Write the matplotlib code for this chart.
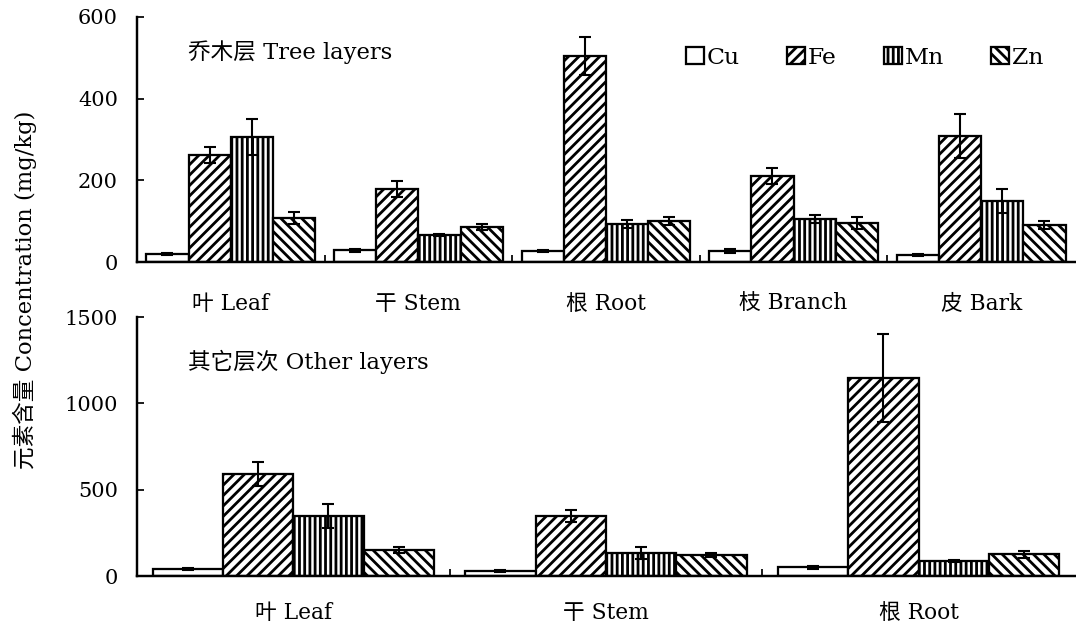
import numpy as np
import matplotlib
matplotlib.use("Agg")
import matplotlib.pyplot as plt

plt.rcParams['font.family'] = ['DejaVu Serif', 'Noto Sans CJK SC']
plt.rcParams['hatch.linewidth'] = 1.6
plt.rcParams['hatch.color'] = 'black'

# data (mg/kg), mean and error
elements = ['Cu', 'Fe', 'Mn', 'Zn']
hatches = ['', '////', '||||', '\\\\\\\\']

tree_parts = ['叶 Leaf', '干 Stem', '根 Root', '枝 Branch', '皮 Bark']
tree_cu = [20, 29, 27, 27, 17]
tree_cu_err = [2, 4, 3, 4, 2]
tree_fe = [262, 179, 505, 211, 309]
tree_fe_err = [20, 19, 46, 19, 54]
tree_mn = [306, 66, 93, 105, 150]
tree_mn_err = [44, 3, 10, 10, 29]
tree_zn = [108, 86, 100, 96, 91]
tree_zn_err = [14, 7, 10, 14, 9]

other_parts = ['叶 Leaf', '干 Stem', '根 Root']
other_cu = [40, 28, 50]
other_cu_err = [5, 4, 8]
other_fe = [590, 347, 1146]
other_fe_err = [70, 35, 255]
other_mn = [347, 133, 87]
other_mn_err = [70, 35, 8]
other_zn = [150, 121, 127]
other_zn_err = [18, 10, 20]

dpi = 125
fig = plt.figure(figsize=(1076 / dpi, 628 / dpi), dpi=dpi)
ax1 = fig.add_axes([0.1273, 0.5828, 0.8717, 0.3902])
ax2 = fig.add_axes([0.1273, 0.0828, 0.8717, 0.4124])

w = 0.225


def draw_panel(ax, parts, vals, errs, ylim, yticks, title, title_y, xpad):
    x = np.arange(len(parts))
    for k in range(4):
        ax.bar(x + (k - 1.5) * w, vals[k], w, yerr=errs[k],
               color='white', edgecolor='black', linewidth=1.3,
               hatch=hatches[k], label=elements[k],
               error_kw=dict(ecolor='black', elinewidth=1.2, capsize=3.7, capthick=1.2))
    ax.set_xlim(-0.5, len(parts) - 0.5)
    ax.set_ylim(*ylim)
    ax.set_yticks(yticks)
    ax.set_xticks(x)
    ax.set_xticklabels(parts, fontsize=12.5)
    ax.set_xticks(np.arange(len(parts) - 1) + 0.5, minor=True)
    ax.tick_params(axis='x', which='major', length=0, pad=xpad)
    ax.tick_params(axis='x', which='minor', direction='in', length=4, width=1)
    ax.tick_params(axis='y', direction='in', length=4, width=1, pad=11, labelsize=12)
    for s in ['top', 'right']:
        ax.spines[s].set_visible(False)
    for s in ['left', 'bottom']:
        ax.spines[s].set_linewidth(1.4)
    ax.text(0.054, title_y, title, transform=ax.transAxes, fontsize=13, va='center')


draw_panel(ax1, tree_parts,
           [tree_cu, tree_fe, tree_mn, tree_zn],
           [tree_cu_err, tree_fe_err, tree_mn_err, tree_zn_err],
           (0, 600), [0, 200, 400, 600], '乔木层 Tree layers', 0.857, 18)
draw_panel(ax2, other_parts,
           [other_cu, other_fe, other_mn, other_zn],
           [other_cu_err, other_fe_err, other_mn_err, other_zn_err],
           (0, 1500), [0, 500, 1000, 1500], '其它层次 Other layers', 0.826, 15)

ax1.legend(loc='center', bbox_to_anchor=(0.776, 0.833), ncol=4, frameon=False,
           fontsize=13.5, handlelength=0.75, handleheight=0.75, handletextpad=0.15,
           columnspacing=2.0)

fig.text(0.023, 0.538, '元素含量 Concentration (mg/kg)', rotation=90,
         ha='center', va='center', fontsize=13)

fig.savefig('out.png', dpi=dpi)
